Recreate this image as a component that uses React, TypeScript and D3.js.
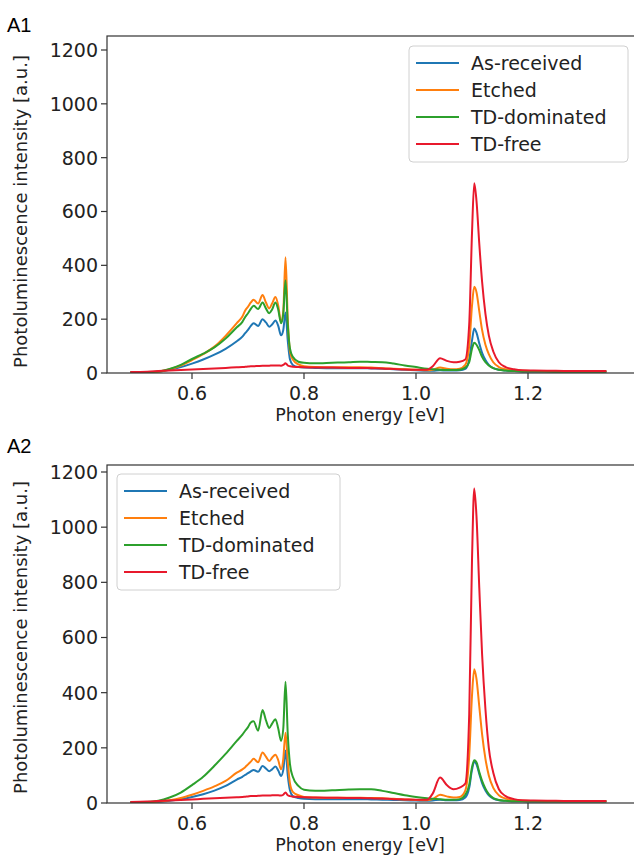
import React from "react";
import * as d3 from "d3";

const energy = [0.49, 0.52, 0.54, 0.56, 0.58, 0.60, 0.62, 0.64, 0.66, 0.68, 0.69, 0.695, 0.70, 0.705, 0.71, 0.718, 0.726, 0.732, 0.738, 0.743, 0.749, 0.754, 0.759, 0.763, 0.767, 0.771, 0.775, 0.78, 0.79, 0.80, 0.82, 0.85, 0.88, 0.90, 0.92, 0.94, 0.96, 0.98, 1.00, 1.02, 1.03, 1.043, 1.055, 1.067, 1.078, 1.088, 1.095, 1.100, 1.104, 1.108, 1.113, 1.118, 1.124, 1.130, 1.138, 1.148, 1.16, 1.175, 1.19, 1.21, 1.25, 1.30, 1.34];

// Panel A1
const a1AsReceived = [3, 3, 5, 12, 22, 35, 50, 68, 90, 118, 135, 148, 160, 175, 185, 175, 200, 188, 172, 180, 195, 175, 140, 160, 225, 120, 50, 30, 22, 20, 19, 18, 18, 18, 17, 16, 14, 12, 10, 8, 8, 10, 9, 9, 10, 15, 50, 120, 165, 150, 110, 75, 48, 30, 18, 12, 9, 7, 6, 6, 5, 5, 5];
const a1Etched = [3, 3, 5, 14, 28, 48, 70, 98, 138, 185, 210, 232, 246, 262, 272, 258, 290, 262, 240, 258, 282, 250, 190, 230, 430, 200, 80, 50, 32, 25, 22, 21, 21, 21, 20, 18, 16, 14, 12, 10, 12, 20, 16, 14, 16, 30, 100, 250, 320, 300, 230, 160, 105, 70, 40, 22, 14, 10, 8, 7, 6, 6, 6];
const a1TDdom = [3, 3, 6, 15, 30, 52, 72, 95, 128, 170, 190, 208, 222, 238, 250, 238, 262, 240, 222, 236, 262, 235, 185, 220, 345, 180, 90, 60, 42, 38, 36, 38, 40, 42, 41, 40, 35, 28, 22, 16, 14, 12, 11, 11, 12, 20, 40, 90, 112, 105, 85, 60, 40, 28, 18, 12, 9, 7, 6, 6, 5, 5, 5];
const a1TDfree = [4, 5, 7, 9, 11, 13, 15, 17, 19, 21, 22, 23, 24, 25, 25, 26, 27, 27, 27, 28, 28, 28, 27, 30, 36, 28, 25, 23, 22, 21, 20, 20, 19, 19, 18, 17, 15, 13, 12, 12, 25, 55, 45, 40, 42, 50, 180, 520, 705, 640, 480, 340, 220, 140, 80, 40, 22, 14, 10, 9, 8, 7, 7];

// Panel A2
const a2AsReceived = [3, 3, 4, 8, 14, 22, 32, 45, 62, 85, 95, 102, 108, 115, 120, 113, 134, 125, 115, 122, 132, 118, 98, 120, 190, 100, 45, 25, 18, 15, 14, 14, 14, 14, 13, 12, 11, 10, 9, 8, 9, 12, 10, 10, 11, 20, 55, 120, 150, 140, 105, 72, 45, 28, 16, 10, 8, 6, 6, 5, 5, 5, 5];
const a2Etched = [3, 3, 5, 10, 18, 30, 44, 60, 80, 110, 122, 130, 140, 150, 160, 148, 183, 168, 152, 164, 175, 155, 122, 160, 255, 150, 70, 40, 28, 22, 20, 19, 19, 19, 18, 17, 15, 13, 11, 10, 14, 30, 24, 20, 22, 45, 170, 390, 485, 450, 350, 250, 160, 100, 55, 28, 16, 10, 8, 7, 6, 6, 6];
const a2TDdom = [3, 4, 8, 20, 38, 65, 95, 135, 178, 225, 248, 262, 275, 292, 296, 262, 337, 300, 272, 288, 304, 270, 225, 270, 440, 250, 140, 95, 62, 48, 44, 46, 49, 50, 50, 44, 36, 28, 22, 17, 15, 14, 12, 12, 14, 30, 65, 130, 155, 148, 112, 80, 52, 32, 18, 11, 8, 6, 6, 5, 5, 5, 5];
const a2TDfree = [4, 5, 7, 9, 11, 13, 15, 17, 19, 21, 22, 23, 24, 25, 25, 26, 27, 27, 27, 28, 28, 28, 27, 30, 38, 28, 25, 23, 22, 21, 20, 19, 18, 18, 17, 16, 14, 13, 12, 12, 35, 92, 65, 50, 56, 70, 320, 880, 1140, 1040, 780, 540, 340, 200, 110, 50, 25, 14, 10, 9, 8, 7, 7];

const seriesNames = ["As-received", "Etched", "TD-dominated", "TD-free"];
const seriesColors = ["#1f77b4", "#ff7f0e", "#2ca02c", "#e8192c"];
const xTicks = [0.6, 0.8, 1.0, 1.2];
const yTicks = [0, 200, 400, 600, 800, 1000, 1200];

const FONT = "'DejaVu Sans', sans-serif";

type PanelProps = {
  label: string;
  labelY: number;
  frameTop: number;
  y0: number;
  y1200: number;
  values: number[][];
  legendX: number;
  legendY: number;
  legendW: number;
  clipId: string;
};

function Panel(p: PanelProps) {
  const x = d3.scaleLinear().domain([0.6, 1.2]).range([192, 528]);
  const y = d3.scaleLinear().domain([0, 1200]).range([p.y0, p.y1200]);
  const left = 107;
  const right = 640;
  const line = d3
    .line<number>()
    .x((_, i) => x(energy[i]))
    .y((v) => y(v))
    .curve(d3.curveMonotoneX);
  const rowH = 27;
  return (
    <g>
      <text x={7} y={p.labelY} fontFamily="'Liberation Sans', Arial, sans-serif" fontSize={20} fill="#000">
        {p.label}
      </text>
      <defs>
        <clipPath id={p.clipId}>
          <rect x={left} y={p.frameTop} width={right - left} height={p.y0 - p.frameTop} />
        </clipPath>
      </defs>
      <g clipPath={`url(#${p.clipId})`}>
        {p.values.map((vals, k) => (
          <path key={k} d={line(vals) || ""} fill="none" stroke={seriesColors[k]} strokeWidth={2} strokeLinejoin="round" />
        ))}
      </g>
      <rect x={left} y={p.frameTop} width={right - left} height={p.y0 - p.frameTop} fill="none" stroke="#333" strokeWidth={1.2} />
      {yTicks.map((t) => (
        <g key={t}>
          <line x1={left - 6} x2={left} y1={y(t)} y2={y(t)} stroke="#333" strokeWidth={1.2} />
          <text x={left - 9} y={y(t)} dy="0.36em" textAnchor="end" fontFamily={FONT} fontSize={19} fill="#222">
            {t}
          </text>
        </g>
      ))}
      {xTicks.map((t) => (
        <g key={t}>
          <line x1={x(t)} x2={x(t)} y1={p.y0} y2={p.y0 + 6} stroke="#333" strokeWidth={1.2} />
          <text x={x(t)} y={p.y0 + 27} textAnchor="middle" fontFamily={FONT} fontSize={19} fill="#222">
            {t.toFixed(1)}
          </text>
        </g>
      ))}
      <text x={x(0.9)} y={p.y0 + 48} textAnchor="middle" fontFamily={FONT} fontSize={17.5} fill="#222">
        Photon energy [eV]
      </text>
      <text
        transform={`translate(27,${(p.y0 + p.y1200) / 2}) rotate(-90)`}
        textAnchor="middle"
        fontFamily={FONT}
        fontSize={18}
        fill="#222"
      >
        Photoluminescence intensity [a.u.]
      </text>
      <rect x={p.legendX} y={p.legendY} width={p.legendW} height={116} rx={4} fill="#fff" fillOpacity={0.85} stroke="#d0d0d0" strokeWidth={1} />
      {seriesNames.map((n, k) => (
        <g key={n}>
          <line
            x1={p.legendX + 7}
            x2={p.legendX + 50}
            y1={p.legendY + 17 + k * rowH}
            y2={p.legendY + 17 + k * rowH}
            stroke={seriesColors[k]}
            strokeWidth={2}
          />
          <text x={p.legendX + 62} y={p.legendY + 17 + k * rowH} dy="0.36em" fontFamily={FONT} fontSize={19} fill="#222">
            {n}
          </text>
        </g>
      ))}
    </g>
  );
}

export default function App() {
  return (
    <svg width={634} height={860} style={{ position: "absolute", left: 0, top: 0, background: "#fff" }}>
      <rect width={634} height={860} fill="#fff" />
      <Panel
        label="A1"
        labelY={32}
        frameTop={36}
        y0={373}
        y1200={50}
        values={[a1AsReceived, a1Etched, a1TDdom, a1TDfree]}
        legendX={409}
        legendY={46}
        legendW={219}
        clipId="clipA1"
      />
      <Panel
        label="A2"
        labelY={453}
        frameTop={465}
        y0={803}
        y1200={472}
        values={[a2AsReceived, a2Etched, a2TDdom, a2TDfree]}
        legendX={117}
        legendY={474}
        legendW={223}
        clipId="clipA2"
      />
    </svg>
  );
}
